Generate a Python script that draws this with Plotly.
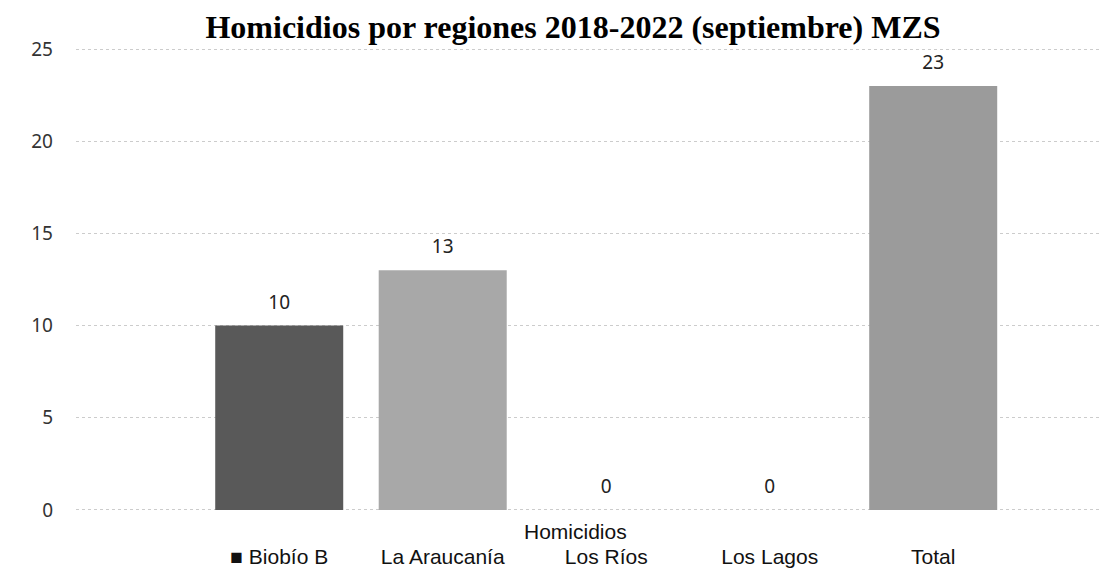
import plotly.graph_objects as go

regions = ["Biobío B", "La Araucanía", "Los Ríos", "Los Lagos", "Total"]
tick_labels = ["■ Biobío B", "La Araucanía", "Los Ríos", "Los Lagos", "Total"]
homicidios = [10, 13, 0, 0, 23]
bar_colors = ["#595959", "#a8a8a8", "#bfbfbf", "#bfbfbf", "#9b9b9b"]
y_ticks = [0, 5, 10, 15, 20, 25]

W, H = 1100, 561
L, R, T, B = 68, 1, 40, 58

fig = go.Figure()
fig.add_trace(go.Bar(
    x=regions, y=homicidios, marker=dict(color=bar_colors, line=dict(width=0)),
    showlegend=False, hoverinfo="x+y",
))
fig.add_trace(go.Scatter(
    x=regions, y=homicidios, mode="markers+text",
    text=[str(v) for v in homicidios], textposition="top center",
    marker=dict(size=18, opacity=0),
    textfont=dict(family="Noto Sans", size=19, color="#222222"),
    showlegend=False, hoverinfo="skip", cliponaxis=False,
))

plot_h = H - T - B
fig.update_layout(
    width=W, height=H,
    margin=dict(l=L, r=R, t=T, b=B),
    paper_bgcolor="white", plot_bgcolor="white",
    bargap=0.217,
    title=dict(
        text="<b>Homicidios por regiones 2018-2022 (septiembre) MZS</b>",
        font=dict(family="Liberation Serif", size=32, color="#000000"),
        x=565 / W, xanchor="center", xref="container",
        y=1 - 19 / H, yanchor="middle", yref="container",
    ),
    xaxis=dict(
        type="category", range=[-1.243, 5.063],
        tickmode="array", tickvals=regions, ticktext=tick_labels,
        tickfont=dict(family="Liberation Sans", size=21, color="#111111"),
        showgrid=False, zeroline=False, showline=False, ticks="",
        ticklabelstandoff=31,
    ),
    yaxis=dict(
        range=[-0.06, 25.06], tickmode="array", tickvals=y_ticks,
        tickfont=dict(family="Noto Sans", size=19, color="#333333"),
        showgrid=True, gridcolor="#cccccc", griddash="dot", gridwidth=1,
        zeroline=False, showline=False, ticks="",
        ticklabelstandoff=22,
    ),
    annotations=[dict(
        text="Homicidios", xref="paper", yref="paper",
        x=(567 - L) / (W - L - R), y=-20 / plot_h,
        xanchor="center", yanchor="middle", showarrow=False,
        font=dict(family="Liberation Sans", size=21, color="#111111"),
    )],
)

fig.write_html("out.html")
